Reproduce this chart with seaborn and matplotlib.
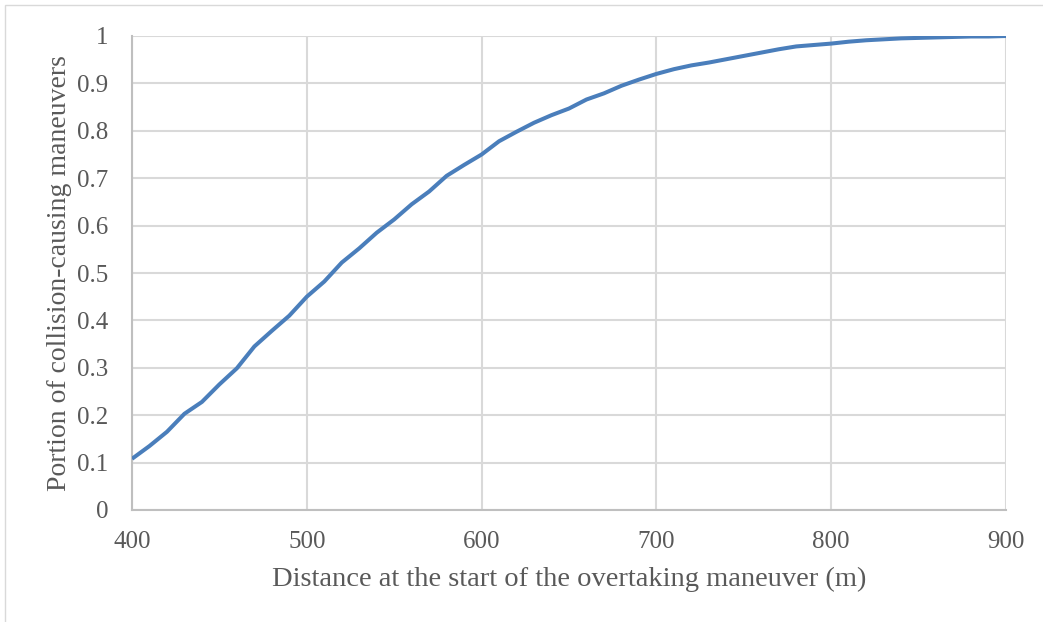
#!/usr/bin/env python3
# coding: utf-8

import seaborn as sns
import matplotlib
from matplotlib import pyplot as plt
import pandas as pd

# data (distance step 10 m)
distance = list(range(400, 901, 10))
portion = [0.108, 0.135, 0.165, 0.203, 0.228, 0.265, 0.299, 0.345, 0.378, 0.410,
           0.450, 0.482, 0.522, 0.552, 0.585, 0.613, 0.645, 0.672, 0.705, 0.728,
           0.750, 0.778, 0.798, 0.817, 0.833, 0.847, 0.866, 0.879, 0.895, 0.908,
           0.920, 0.930, 0.938, 0.944, 0.951, 0.958, 0.965, 0.972, 0.978, 0.981,
           0.984, 0.988, 0.991, 0.993, 0.995, 0.996, 0.997, 0.998, 0.999, 0.999,
           1.000]
x_ticks = [400, 500, 600, 700, 800, 900]
y_ticks = [0, 0.1, 0.2, 0.3, 0.4, 0.5, 0.6, 0.7, 0.8, 0.9, 1]
y_tick_labels = ["0", "0.1", "0.2", "0.3", "0.4", "0.5", "0.6", "0.7", "0.8", "0.9", "1"]

df = pd.DataFrame({"distance": distance, "portion": portion})

# common setup
sns.set_style("white")
matplotlib.rcParams['font.family'] = ['Liberation Serif', 'DejaVu Serif']
text_color = "#595959"

fig = plt.figure(figsize=[10.43, 6.22], dpi=100)
ax = fig.add_axes([132 / 1043, 1 - 510 / 622, (1006 - 132) / 1043, (510 - 36) / 622])

sns.lineplot(data=df, x="distance", y="portion", ax=ax, color="#4a7ebb",
             linewidth=2.9, solid_capstyle="butt", zorder=3)

ax.set_xlim(400, 900)
ax.set_ylim(0, 1)
ax.set_xticks(x_ticks)
ax.set_yticks(y_ticks)
ax.set_yticklabels(y_tick_labels)
ax.grid(True, color="#d9d9d9", linewidth=1.5)
ax.set_axisbelow(True)
for side in ["top", "right"]:
    ax.spines[side].set_visible(False)
for side in ["left", "bottom"]:
    ax.spines[side].set_color("#bfbfbf")
    ax.spines[side].set_linewidth(1.5)
ax.tick_params(axis="both", length=0, labelsize=18, labelcolor=text_color)
ax.tick_params(axis="y", pad=17)
ax.tick_params(axis="x", pad=15)

ax.set_xlabel("Distance at the start of the overtaking maneuver (m)", fontsize=20.5,
              color=text_color, labelpad=10)
ax.set_ylabel("Portion of collision-causing maneuvers", fontsize=20,
              color=text_color, labelpad=4)

# outer chart border
fig.patches.append(matplotlib.patches.Rectangle((5 / 1043, -0.1), 1.2, 1 - 5 / 622 + 0.1,
                                                transform=fig.transFigure, fill=False,
                                                edgecolor="#d9d9d9", linewidth=1))

plt.savefig("out.png", dpi=100)
